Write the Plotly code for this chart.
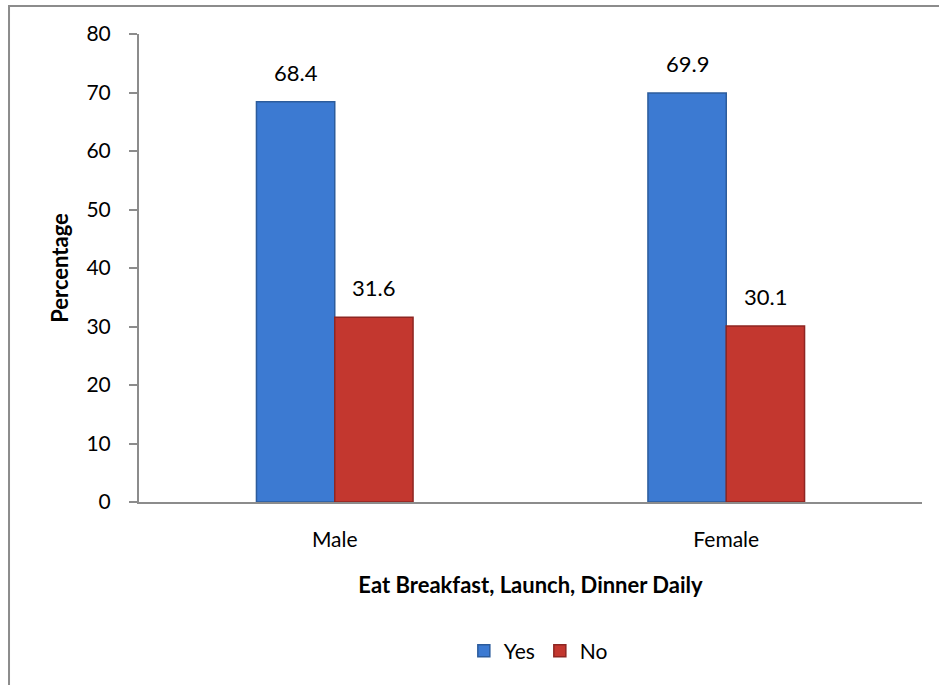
import plotly.graph_objects as go

# Survey results: share eating breakfast, lunch and dinner daily, by gender
categories = ["Male", "Female"]
yes_values = [68.4, 69.9]
no_values = [31.6, 30.1]
y_ticks = [0, 10, 20, 30, 40, 50, 60, 70, 80]

FONT = "Lato, 'Open Sans', sans-serif"
BLUE = "#3C7AD2"
BLUE_EDGE = "#2C5C9C"
RED = "#C3372F"
RED_EDGE = "#8E2622"
GRID = "#8C8C8C"

fig = go.Figure()
fig.add_trace(go.Bar(
    name="Yes", x=categories, y=yes_values,
    marker=dict(color=BLUE, line=dict(color=BLUE_EDGE, width=1.5)),
))
fig.add_trace(go.Bar(
    name="No", x=categories, y=no_values,
    marker=dict(color=RED, line=dict(color=RED_EDGE, width=1.5)),
))

# value labels above each bar (bars are 0.2 wide, centred at ±0.1)
annotations = []
for i, cat in enumerate(categories):
    for val, off in ((yes_values[i], -0.1), (no_values[i], 0.1)):
        annotations.append(dict(
            x=i + off, y=val, xref="x", yref="y",
            text=f"{val:.1f}", showarrow=False,
            yanchor="bottom", yshift=14,
            font=dict(family=FONT, size=22, color="#000"),
        ))

fig.update_layout(
    width=939, height=685,
    margin=dict(l=139, r=17, t=34, b=183),
    paper_bgcolor="white", plot_bgcolor="white",
    barmode="group", bargap=0.6, bargroupgap=0,
    font=dict(family=FONT, size=22, color="#000"),
    showlegend=True,
    legend=dict(
        orientation="h", x=0.51, xanchor="center", y=-0.275, yanchor="top",
        font=dict(family=FONT, size=21), itemwidth=30, traceorder="normal",
    ),
    annotations=annotations,
    shapes=[dict(
        type="rect", xref="paper", yref="paper",
        x0=-0.166, x1=1.05, y0=-0.45, y1=1.0598,
        line=dict(color=GRID, width=2), fillcolor="rgba(0,0,0,0)", layer="below",
    )],
)

fig.update_xaxes(
    showline=True, linecolor=GRID, linewidth=2, ticks="",
    tickfont=dict(family=FONT, size=21), ticklabelstandoff=18,
    title=dict(text="<b>Eat Breakfast, Launch, Dinner Daily</b>",
               font=dict(family=FONT, size=22), standoff=27),
)
fig.update_yaxes(
    range=[0, 80], tickvals=y_ticks, showgrid=False, zeroline=False,
    showline=True, linecolor=GRID, linewidth=2,
    ticks="outside", ticklen=8, tickcolor=GRID, tickwidth=2,
    tickfont=dict(family=FONT, size=21), ticklabelstandoff=14,
    title=dict(text="<b>Percentage</b>", font=dict(family=FONT, size=22), standoff=12),
)

fig.write_html("out.html")
